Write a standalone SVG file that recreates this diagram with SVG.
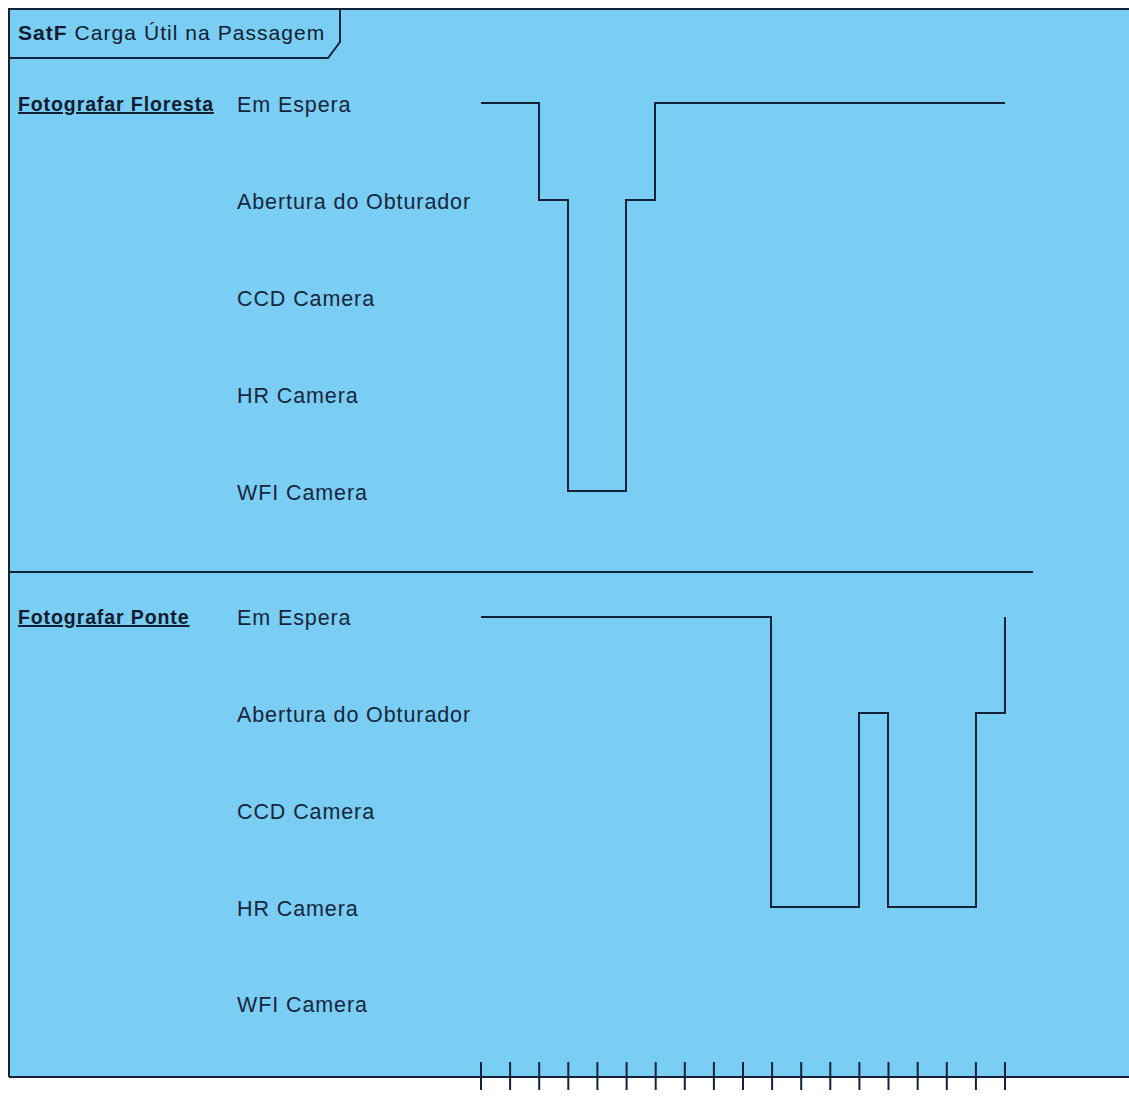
<svg xmlns="http://www.w3.org/2000/svg" width="1129" height="1097" viewBox="0 0 1129 1097">
<style>
.lbl{font-family:"Liberation Sans",Arial,sans-serif;font-size:21.5px;letter-spacing:0.9px;fill:#16263d}
.lane{font-family:"Liberation Sans",Arial,sans-serif;font-size:19.5px;font-weight:bold;letter-spacing:0.9px;fill:#111c30;text-decoration:underline}
.ttl{font-family:"Liberation Sans",Arial,sans-serif;font-size:21px;letter-spacing:1.05px;fill:#111c30}
.ln{fill:none;stroke:#14233b;stroke-width:2}
</style>
<rect x="0" y="0" width="1129" height="1097" fill="#ffffff"/>
<g id="frame">
<rect x="9" y="9" width="1125" height="1068" fill="#7acdf3"/>
<path class="ln" d="M9 1077 V9 H1129"/>
<path class="ln" d="M9 58 H328 L340 42 V9"/>
<text class="ttl" x="18" y="40"><tspan font-weight="bold">SatF</tspan> Carga Útil na Passagem</text>
</g>
<g id="lane1">
<text class="lane" x="18" y="111">Fotografar Floresta</text>
<text class="lbl" x="237" y="112">Em Espera</text>
<text class="lbl" x="237" y="209">Abertura do Obturador</text>
<text class="lbl" x="237" y="306">CCD Camera</text>
<text class="lbl" x="237" y="403">HR Camera</text>
<text class="lbl" x="237" y="500">WFI Camera</text>
</g>
<g id="lane2">
<text class="lane" x="18" y="624">Fotografar Ponte</text>
<text class="lbl" x="237" y="625">Em Espera</text>
<text class="lbl" x="237" y="722">Abertura do Obturador</text>
<text class="lbl" x="237" y="819">CCD Camera</text>
<text class="lbl" x="237" y="916">HR Camera</text>
<text class="lbl" x="237" y="1012">WFI Camera</text>
</g>
<g id="connectors">
<line class="ln" x1="9" y1="572" x2="1033" y2="572"/>
<path class="ln" d="M481 103 H539 V200 H568 V491 H626 V200 H655 V103 H1005"/>
<path class="ln" d="M481 617 H771 V907 H859 V713 H888 V907 H976 V713 H1005 V617"/>
<path class="ln" d="M9 1077 H1129"/>
<path class="ln" d="M481 1062 V1090 M510.1 1062 V1090 M539.2 1062 V1090 M568.3 1062 V1090 M597.4 1062 V1090 M626.6 1062 V1090 M655.7 1062 V1090 M684.8 1062 V1090 M713.9 1062 V1090 M743 1062 V1090 M772.1 1062 V1090 M801.2 1062 V1090 M830.3 1062 V1090 M859.4 1062 V1090 M888.5 1062 V1090 M917.7 1062 V1090 M946.8 1062 V1090 M975.9 1062 V1090 M1005 1062 V1090"/>
</g>
</svg>
